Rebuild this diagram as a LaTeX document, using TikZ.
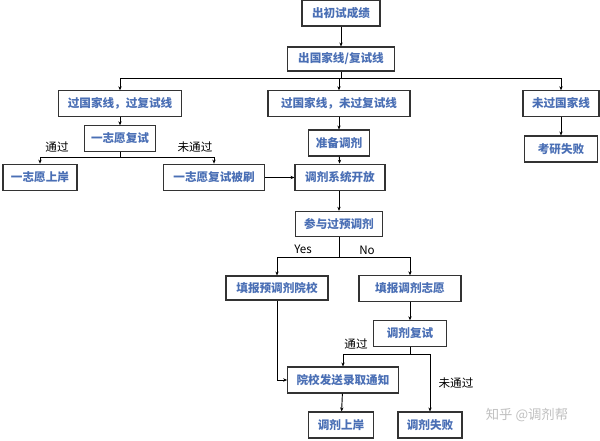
\documentclass[tikz,border=0pt]{standalone}
\usepackage{fontspec}
\setmainfont{Noto Sans CJK SC}
\usetikzlibrary{arrows.meta}
\definecolor{tb}{HTML}{4A6FB5}
\begin{document}
\begin{tikzpicture}[x=0.75pt,y=-0.75pt,
 box/.style={draw=black!80,line width=0.8pt,fill=white,text=tb,font=\fontsize{8.7pt}{10pt}\selectfont\bfseries,inner sep=0pt},
 lab/.style={font=\fontsize{8.7pt}{10pt}\selectfont,text=black},
 ar/.style={-{Stealth[length=3pt,width=2.5pt]},line width=0.7pt},
 ln/.style={line width=0.7pt}]
\useasboundingbox (0,0) rectangle (600,441);
\node[box,minimum width=58.5pt,minimum height=19.5pt] (a) at (341,13) {出初试成绩};
\node[box,minimum width=80pt,minimum height=18pt] (b) at (341,59) {出国家线/复试线};
\node[box,minimum width=92pt,minimum height=19pt] (c1) at (120,103.5) {过国家线，过复试线};
\node[box,minimum width=106.5pt,minimum height=19pt] (c2) at (339,103.5) {过国家线，未过复试线};
\node[box,minimum width=57pt,minimum height=19pt] (c3) at (561,103.5) {未过国家线};
\node[box,minimum width=53pt,minimum height=19pt] (d1) at (120,138.5) {一志愿复试};
\node[box,minimum width=46pt,minimum height=19.5pt] (d2) at (339,143) {准备调剂};
\node[box,minimum width=55pt,minimum height=19.5pt] (d3) at (561,149) {考研失败};
\node[box,minimum width=55.5pt,minimum height=20pt] (e1) at (40,177.5) {一志愿上岸};
\node[box,minimum width=76pt,minimum height=20pt] (e2) at (214,177.5) {一志愿复试被刷};
\node[box,minimum width=67.5pt,minimum height=20pt] (e3) at (340,177.5) {调剂系统开放};
\node[box,minimum width=65pt,minimum height=19pt] (f) at (339,224) {参与过预调剂};
\node[box,minimum width=76.5pt,minimum height=18pt] (g1) at (277,288) {填报预调剂院校};
\node[box,minimum width=76.5pt,minimum height=19pt] (g2) at (410,288.5) {填报调剂志愿};
\node[box,minimum width=55pt,minimum height=19pt] (h) at (410,333.5) {调剂复试};
\node[box,minimum width=83pt,minimum height=19.5pt] (i) at (343,380) {院校发送录取通知};
\node[box,minimum width=49pt,minimum height=19.5pt] (j1) at (341,425) {调剂上岸};
\node[box,minimum width=48pt,minimum height=19.5pt] (j2) at (430,425) {调剂失败};
\coordinate (s1) at (341,78);
\draw[ar] (a) -- (b);
\draw[ln] (b) -- (s1);
\draw[ar] (s1) -| (c1);
\draw[ar] (s1) -| (c2);
\draw[ar] (s1) -| (c3);
\draw[ar] (c1) -- (d1);
\draw[ar] (c2) -- (d2);
\draw[ar] (c3) -- (d3);
\draw[ar] (d2) -- (e3);
\coordinate (s2) at (120,157);
\draw[ln] (d1) -- (s2);
\draw[ar] (s2) -| (e1);
\draw[ar] (s2) -| (e2);
\draw[ar] (e2) -- (e3);
\draw[ar] (e3.south -| f) -- (f);
\coordinate (s3) at (339,257);
\draw[ln] (f) -- (s3);
\draw[ar] (s3) -| (g1);
\draw[ar] (s3) -| (g2);
\draw[ar] (g2) -- (h);
\coordinate (s4) at (410,354);
\draw[ln] (h) -- (s4);
\draw[ar] (s4) -| (i);
\draw[ar] (s4) -| (j2);
\draw[ar] (g1.south) |- (i.west);
\draw[ar] (i) -- (j1);
\node[lab] at (57,147) {通过};
\node[lab] at (195,147) {未通过};
\node[lab] at (303,249) {Yes};
\node[lab] at (367,250) {No};
\node[lab] at (356,344) {通过};
\node[lab] at (456,383) {未通过};
\node[font=\fontsize{10pt}{12pt}\selectfont,text=black!25] at (527,415) {知乎 @调剂帮};
\end{tikzpicture}
\end{document}
